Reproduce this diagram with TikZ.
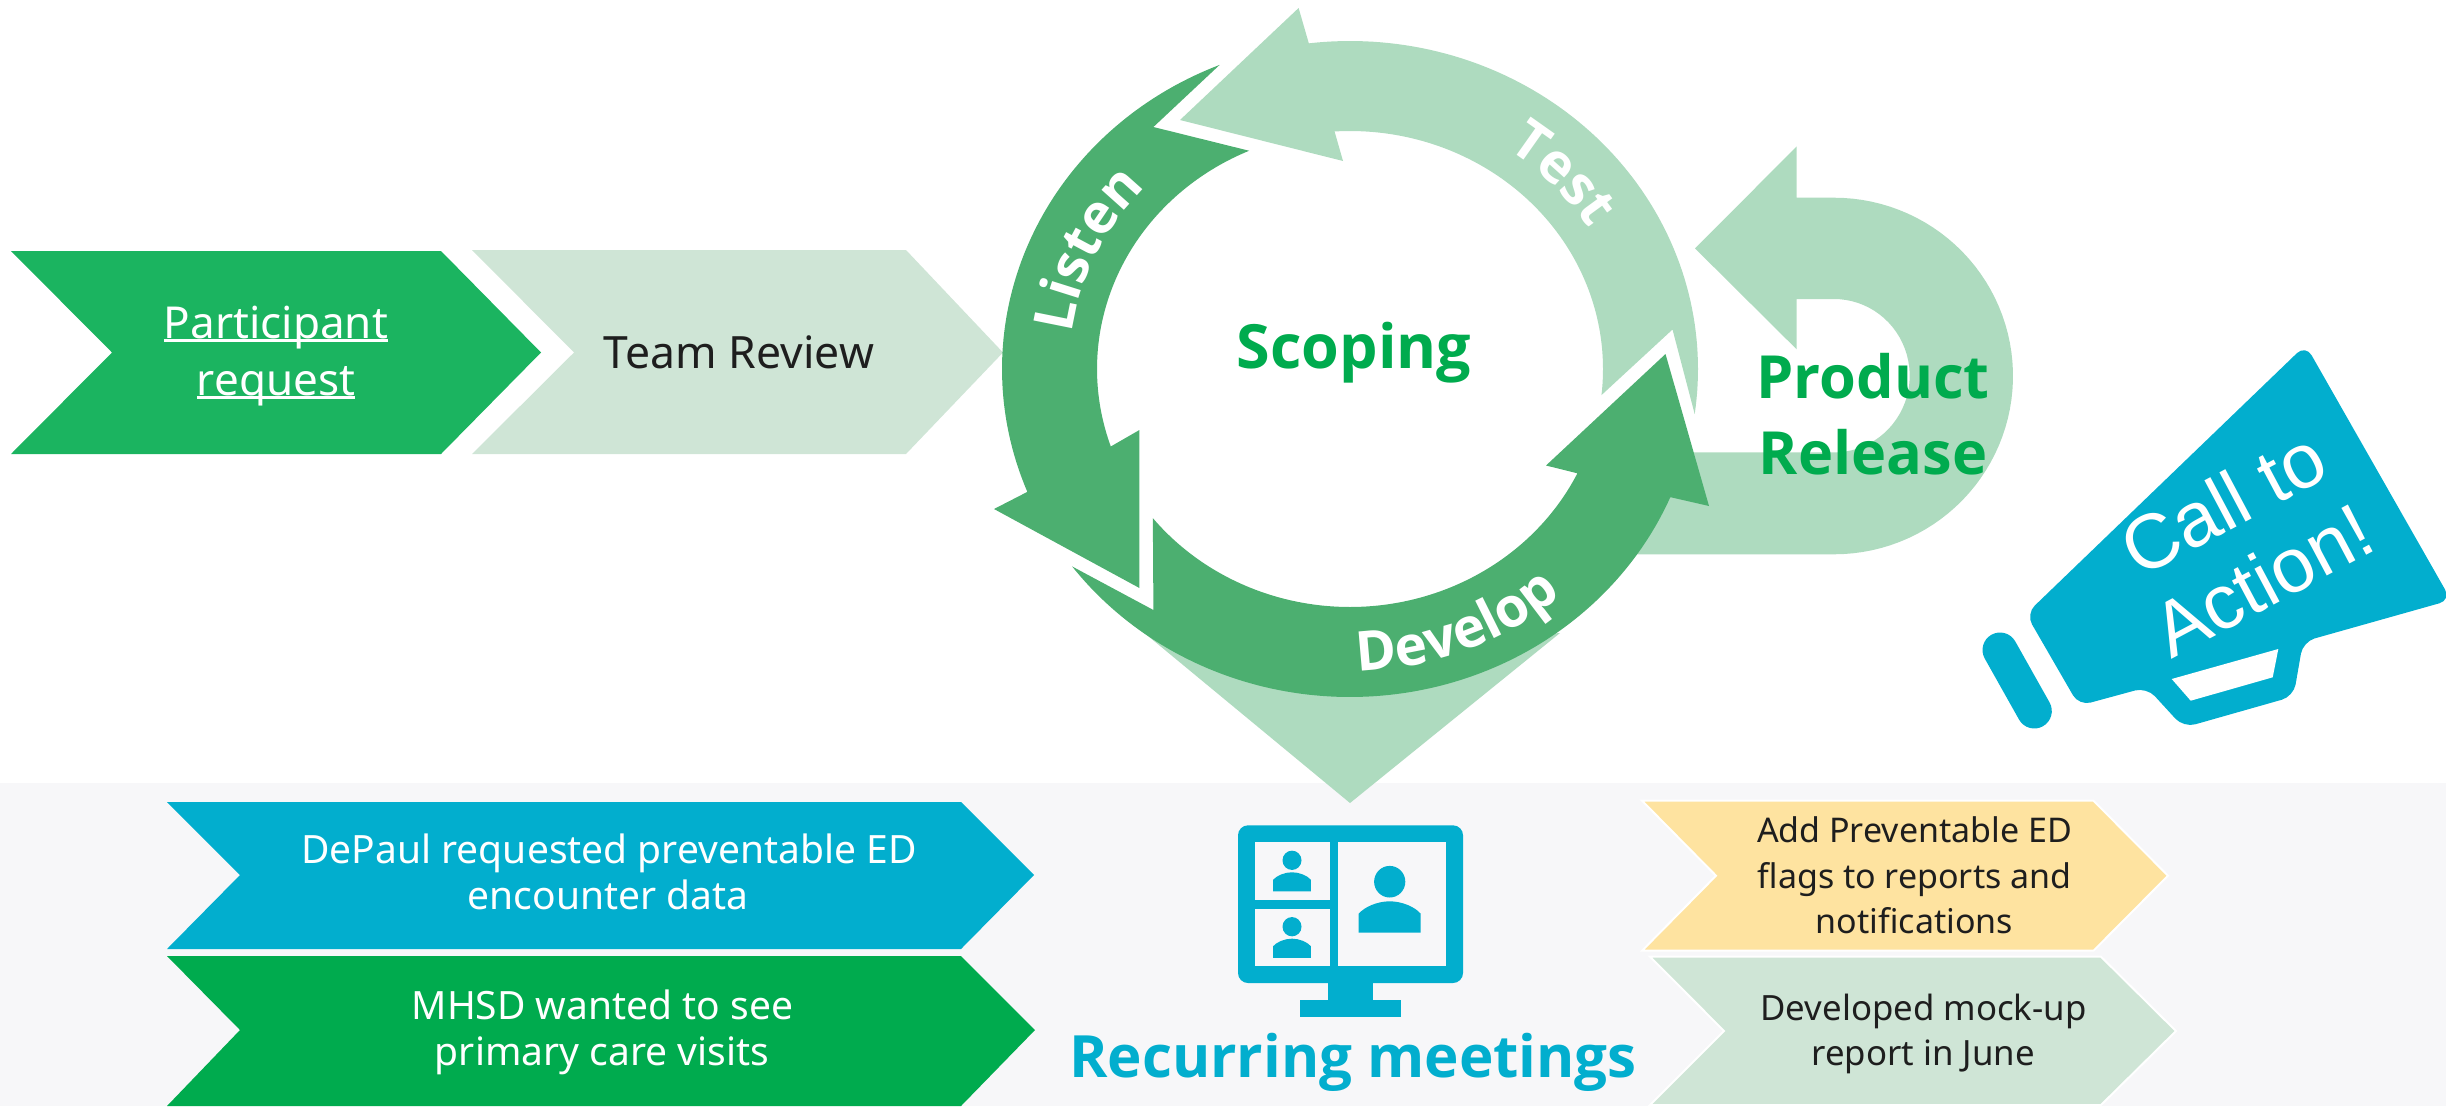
\documentclass[tikz,border=0pt]{standalone}
\usepackage{fontspec}
\setmainfont{Noto Sans}
\newfontfamily\headfam{Open Sans}
\usetikzlibrary{decorations.text}
\definecolor{ringdark}{HTML}{4CAF70}
\definecolor{ringlight}{HTML}{AEDBBF}
\definecolor{paletint}{HTML}{CFE5D6}
\definecolor{partgreen}{HTML}{1BB460}
\definecolor{cyanblue}{HTML}{02AECE}
\definecolor{deepgreen}{HTML}{00AB4E}
\definecolor{softyellow}{HTML}{FEE3A0}
\definecolor{bandgray}{HTML}{F7F7F9}
\definecolor{inkdark}{HTML}{1E1E1E}
\newcommand\ringfont{\color{white}\headfam\fontsize{55}{60}\selectfont\bfseries}
\newcommand\fsz[1]{\fontsize{#1}{#1}\selectfont}
\newsavebox\ulbox
\newcommand\ulined[1]{\sbox\ulbox{#1}\rlap{\rule[-4pt]{\wd\ulbox}{2.6pt}}\usebox\ulbox}
\tikzset{
  chev/.style={fill=#1,draw=none},
  chevw/.style={fill=#1,draw=white,line width=2pt},
  lbl/.style={inner sep=0pt,anchor=base},
  declare function={
    ox(\t)=1350+348*cos(\t); oy(\t)=369-328*sin(\t);
    ix(\t)=1350+253*cos(\t); iy(\t)=369-238*sin(\t);
  },
  meetperson/.pic={
    \fill (0,0) ellipse [x radius=15.6pt,y radius=15.8pt];
    \fill (-31,51) -- (-31,32) .. controls (-25,25) and (-12,19.6) .. (0,19.6)
          .. controls (12,19.6) and (25,25) .. (31,32) -- (31,51) -- cycle;
  }
}
\begin{document}
\begin{tikzpicture}[x=1pt,y=-1pt]
\useasboundingbox (0,0) rectangle (2446,1106);
\clip (0,0) rectangle (2446,1106);
% band
\fill[bandgray] (0,783) rectangle (2446,1106);
% top chevrons
\fill[chev=partgreen] (11,251) -- (441,251) -- (541,352.5) -- (441,454) -- (11,454) -- (112,352.5) -- cycle;
\fill[chev=paletint] (472,250) -- (906,250) -- (1003,352.5) -- (906,454) -- (472,454) -- (574,352.5) -- cycle;
% product release U arrow
\fill[ringlight] (1695,248.4) -- (1796.7,146.4) -- (1796.7,197.7) -- (1834,197.7)
  -- plot[domain=90:-90,samples=60] ({1834+179*cos(\x)},{376-178.3*sin(\x)})
  -- (1600,554.3) -- (1650,452.4) -- (1834,452.4)
  -- plot[domain=-90:90,samples=40] ({1834+75.7*cos(\x)},{375.7-76.7*sin(\x)})
  -- (1796.7,299) -- (1796.7,349.4) -- cycle;
% down arrow
\fill[ringlight] (1125,617) -- (1350,803) -- (1560,633) -- (1350,650) -- cycle;
% test arrow
\fill[ringlight] (1298.6,8) -- plot[domain=96.8:-7.9,samples=80] ({ox(\x)},{oy(\x)})
  -- (1672.5,329.5) -- plot[domain=-6.3:93.5,samples=80] ({ix(\x)},{iy(\x)})
  -- (1343,161) -- (1180,120) -- cycle;
% listen arrow
\fill[ringdark] plot[domain=112:202,samples=80] ({ox(\x)},{oy(\x)})
  -- (994,509) -- (1139.4,588) -- (1139.4,430)
  -- plot[domain=199:113.5,samples=80] ({ix(\x)},{iy(\x)})
  -- (1153.4,127) -- cycle;
% develop arrow
\fill[ringdark] plot[domain=217:337,samples=100] ({ox(\x)},{oy(\x)})
  -- (1709,506) -- (1665.5,354) -- (1546,465.5)
  -- plot[domain=334:218.8,samples=100] ({ix(\x)},{iy(\x)})
  -- (1153.4,610) -- cycle;
% ring labels
\path[decorate,decoration={text along path,text={|\ringfont|Listen},text align=center}]
  plot[domain=205:105,samples=120] ({1350+281*cos(\x)},{369-265*sin(\x)});
\path[decorate,decoration={text along path,text={|\ringfont|Test},text align=center}]
  plot[domain=93:-7,samples=120] ({1350+281*cos(\x)},{369-265*sin(\x)});
\path[decorate,decoration={text along path,text={|\ringfont|Develop},text align=center}]
  plot[domain=242:342,samples=120] ({1350+320*cos(\x)},{369-302*sin(\x)});
% text top
\node[lbl,text=white] (part1) at (276,338) {\fsz{44}\ulined{Participant}};
\node[lbl,text=white] (part2) at (276,395) {\fsz{44}\ulined{request}};
\node[lbl,text=inkdark] (team) at (739,368) {\fsz{44.5}Team Review};
\node[lbl,text=deepgreen] (scoping) at (1354,368) {\headfam\fsz{61}\bfseries Scoping};
\node[lbl,text=deepgreen] (prod) at (1873,398) {\headfam\fsz{59.5}\bfseries Product};
\node[lbl,text=deepgreen] (rel) at (1873,474) {\headfam\fsz{59.5}\bfseries Release};
% megaphone
\fill[cyanblue,rounded corners=12pt] (2026,614) -- (2305.6,344.8) -- (2451,600) -- (2303,641.7)
  -- (2293.5,696.4) -- (2183.6,727.6) -- (2146.7,687.3) -- (2079,705.7) -- cycle;
\fill[white] (2171.7,679) -- (2278.3,649) -- (2272.7,677.3) -- (2190.7,700.7) -- cycle;
\draw[cyanblue,line width=35pt,line cap=round] (2000,650) -- (2034.3,711);
\node[lbl,text=white,rotate=28] (call) at (2236,527) {\fontspec{Liberation Sans}\fsz{77}Call to};
\node[lbl,text=white,rotate=28] (action) at (2275,604) {\fontspec{Liberation Sans}\fsz{77}Action!};
% bottom chevrons
\fill[chev=cyanblue] (167,802) -- (961,802) -- (1034,875) -- (961,949) -- (167,949) -- (240,875) -- cycle;
\fill[chev=deepgreen] (167,956) -- (961,956) -- (1035,1030) -- (961,1106) -- (167,1106) -- (240,1030) -- cycle;
\filldraw[chevw=softyellow] (1642,800.7) -- (2093.5,800.7) -- (2168,875.7) -- (2093.5,950.7) -- (1642,950.7) -- (1716,875.7) -- cycle;
\filldraw[chevw=paletint] (1650,956.7) -- (2101,956.7) -- (2176,1031) -- (2101,1105) -- (1650,1105) -- (1724,1031) -- cycle;
\node[lbl,text=white] (dep1) at (609,863) {\fsz{39}DePaul requested preventable ED};
\node[lbl,text=white] (dep2) at (608,909) {\fsz{39}encounter data};
\node[lbl,text=white] (mh1) at (602.5,1019) {\fsz{39}MHSD wanted to see};
\node[lbl,text=white] (mh2) at (602,1065) {\fsz{39}primary care visits};
\node[lbl,text=inkdark] (add1) at (1914.5,842) {\fsz{34}Add Preventable ED};
\node[lbl,text=inkdark] (add2) at (1914.5,888) {\fsz{34}flags to reports and};
\node[lbl,text=inkdark] (add3) at (1914.5,933) {\fsz{34}notifications};
\node[lbl,text=inkdark] (dev1) at (1923.5,1020) {\fsz{34.8}Developed mock-up};
\node[lbl,text=inkdark] (dev2) at (1923,1065) {\fsz{34.8}report in June};
% monitor
\fill[cyanblue,rounded corners=10pt] (1238,825.3) rectangle (1463,983);
\fill[cyanblue] (1328,980) rectangle (1373,1002);
\fill[cyanblue] (1299.5,1000) rectangle (1401,1017);
\fill[bandgray] (1254.5,842.3) rectangle (1329.5,900.3);
\fill[bandgray] (1254.5,908.7) rectangle (1329.5,966.3);
\fill[bandgray] (1337.5,842.3) rectangle (1446,966.3);
\begin{scope}[cyanblue]
\pic at (1389.7,881.7) {meetperson};
\pic[scale=.61] at (1292,860.3) {meetperson};
\pic[scale=.61] at (1292,926.7) {meetperson};
\end{scope}
\node[lbl,text=cyanblue] (rec) at (1353,1077.7) {\headfam\fsz{58.3}\bfseries Recurring meetings};
\end{tikzpicture}
\end{document}
